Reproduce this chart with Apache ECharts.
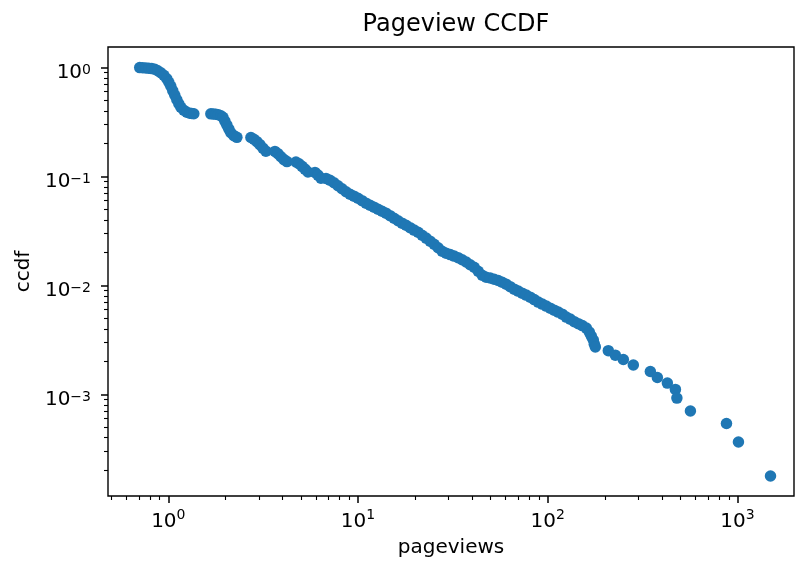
<!DOCTYPE html>
<html>
<head>
<meta charset="utf-8">
<script src="https://cdn.jsdelivr.net/npm/echarts@6/dist/echarts.min.js"></script>
<style>
  html, body { margin: 0; padding: 0; background: #ffffff; }
  #chart { width: 796px; height: 572px; }
</style>
</head>
<body>
<div id="chart"></div>
<script>
// Complementary CDF of page views per page (log-log)
const pageviews = [
  0.707, 0.733, 0.761, 0.789, 0.818, 0.849, 0.880, 0.913, 0.947, 0.982,
  1.006, 1.031, 1.056, 1.082, 1.109, 1.136, 1.164, 1.207, 1.252, 1.299, 1.33, 1.363,
  1.676, 1.728, 1.781, 1.836, 1.892, 1.940, 1.987, 2.036, 2.086, 2.137, 2.216, 2.299,
  2.725, 2.827, 2.931, 3.040, 3.153, 3.269,
  3.648, 3.782, 3.924, 4.070, 4.220,
  4.708, 4.884, 5.065, 5.253, 5.447,
  5.932, 6.151, 6.378,
  6.779, 7.116, 7.471, 7.843, 8.234, 8.644, 9.075, 9.526, 10.0, 10.50,
  11.02, 11.57, 12.15, 12.75, 13.39, 14.05, 14.75, 15.49, 16.26, 17.07,
  17.92, 18.81, 19.75, 20.73, 21.76, 22.85, 23.99, 25.18, 26.43, 27.75,
  29.14, 30.59, 32.11, 33.71, 35.39, 37.15, 39.0, 40.94, 42.98, 45.12,
  47.37, 49.72, 52.20, 54.80, 57.53, 60.39, 63.40, 66.56, 69.87, 73.35,
  77.0, 80.85, 84.88, 89.11, 93.54, 98.20, 103.1, 108.2, 113.6, 119.3,
  125.2, 131.4, 138.0, 144.9, 152.1, 159.7, 165.6, 169.7, 173.9, 176.0, 178.2,
  208.6, 227.1, 250.3, 282.6, 347.4, 378.3, 427.0, 470.8, 479.5, 564.9,
  875.0, 1012, 1493
];
const ccdf = [
  1.0, 0.996, 0.990, 0.985, 0.979, 0.965, 0.935, 0.896, 0.850, 0.789,
  0.733, 0.674, 0.612, 0.557, 0.506, 0.466, 0.432, 0.406, 0.389, 0.381, 0.379, 0.377,
  0.376, 0.375, 0.373, 0.369, 0.361, 0.350, 0.322, 0.296, 0.272, 0.252, 0.237, 0.229,
  0.228, 0.220, 0.209, 0.196, 0.182, 0.171,
  0.170, 0.162, 0.152, 0.143, 0.137,
  0.136, 0.131, 0.124, 0.117, 0.110,
  0.109, 0.103, 0.0965,
  0.0961, 0.0925, 0.0877, 0.0823, 0.0773, 0.0725, 0.0688, 0.0660, 0.0632, 0.0600,
  0.0569, 0.0545, 0.0523, 0.0501, 0.0480, 0.0461, 0.0437, 0.0414, 0.0393, 0.0373,
  0.0357, 0.0339, 0.0322, 0.0308, 0.0289, 0.0272, 0.0255, 0.0239, 0.0222, 0.0206,
  0.0198, 0.0192, 0.0186, 0.0180, 0.0172, 0.0164, 0.0155, 0.0147, 0.0135, 0.0124,
  0.0119, 0.0117, 0.0114, 0.0111, 0.0107, 0.01028, 0.00975, 0.00925, 0.00887, 0.00850,
  0.00815, 0.00781, 0.00741, 0.00703, 0.00674, 0.00646, 0.00619, 0.00593, 0.00569, 0.00545,
  0.00512, 0.00491, 0.00465, 0.00446, 0.00428, 0.00406, 0.00373, 0.00343, 0.00315, 0.00289, 0.00272,
  0.00252, 0.00229, 0.00209, 0.00186, 0.00162, 0.00143, 0.00127, 0.00111, 0.000925, 0.000703,
  0.00054, 0.000365, 0.000178
];

// Tick positions (decades and their in-between minor ticks)
const xMajorTicks = [1, 10, 100, 1000];
const xMinorTicks = [
  0.5, 0.6, 0.7, 0.8, 0.9,
  2, 3, 4, 5, 6, 7, 8, 9,
  20, 30, 40, 50, 60, 70, 80, 90,
  200, 300, 400, 500, 600, 700, 800, 900
];
const yMajorTicks = [0.001, 0.01, 0.1, 1];
const yMinorTicks = [
  0.0002, 0.0003, 0.0004, 0.0005, 0.0006, 0.0007, 0.0008, 0.0009,
  0.002, 0.003, 0.004, 0.005, 0.006, 0.007, 0.008, 0.009,
  0.02, 0.03, 0.04, 0.05, 0.06, 0.07, 0.08, 0.09,
  0.2, 0.3, 0.4, 0.5, 0.6, 0.7, 0.8, 0.9
];
const xRange = [0.481, 1986];
const yRange = [1.167e-4, 1.545];

const FONT = 'DejaVu Sans';
const INK = '#000000';

function powerLabel(v) {
  const e = Math.round(Math.log10(v));
  const exp = e < 0 ? '\u2212' + (-e) : String(e);
  return '{b|10}{s|' + exp + '}';
}

const richX = {
  b: { fontFamily: FONT, fontSize: 20, color: INK, lineHeight: 28 },
  s: { fontFamily: FONT, fontSize: 14, color: INK, lineHeight: 14, verticalAlign: 'top' }
};
// y labels sit slightly below their tick, as with a baseline-centred label
const richY = {
  b: { fontFamily: FONT, fontSize: 20, color: INK, lineHeight: 28, padding: [10, 0, 0, 0] },
  s: { fontFamily: FONT, fontSize: 14, color: INK, lineHeight: 14, verticalAlign: 'top', padding: [10, 0, 0, 0] }
};

function majorAxis(range, ticks, name, rich, margin, extra) {
  return Object.assign({
    type: 'log',
    logBase: 10,
    min: range[0],
    max: range[1],
    name: name,
    nameLocation: 'middle',
    nameTextStyle: { fontFamily: FONT, fontSize: 20, color: INK },
    axisLine: { show: false },
    splitLine: { show: false },
    minorTick: { show: false },
    axisTick: {
      show: true, inside: false, length: 7,
      customValues: ticks,
      lineStyle: { color: INK, width: 1.5 }
    },
    axisLabel: {
      show: true, margin: margin,
      customValues: ticks,
      formatter: powerLabel,
      rich: rich
    }
  }, extra);
}

function minorAxis(range, ticks, extra) {
  return Object.assign({
    type: 'log',
    logBase: 10,
    min: range[0],
    max: range[1],
    axisLine: { show: false },
    splitLine: { show: false },
    axisLabel: { show: false },
    axisTick: {
      show: true, inside: false, length: 4,
      customValues: ticks,
      lineStyle: { color: INK, width: 1.1 }
    }
  }, extra);
}

const points = pageviews.map((v, i) => [v, ccdf[i]]);

const chart = echarts.init(document.getElementById('chart'), null, { renderer: 'canvas' });
chart.setOption({
  animation: false,
  backgroundColor: '#ffffff',
  title: {
    text: 'Pageview CCDF',
    left: 451,
    top: 8,
    textAlign: 'center',
    textStyle: { fontFamily: FONT, fontSize: 24, fontWeight: 'normal', color: INK }
  },
  grid: {
    left: 108, top: 47, right: 2, bottom: 76,
    show: true,
    borderColor: INK,
    borderWidth: 1.4,
    backgroundColor: 'transparent',
    containLabel: false,
    outerBoundsMode: 'none'
  },
  xAxis: [
    majorAxis(xRange, xMajorTicks, 'pageviews', richX, 12, { position: 'bottom', nameGap: 42 }),
    minorAxis(xRange, xMinorTicks, { position: 'bottom' })
  ],
  yAxis: [
    majorAxis(yRange, yMajorTicks, 'ccdf', richY, 17, { position: 'left', nameGap: 74 }),
    minorAxis(yRange, yMinorTicks, { position: 'left' })
  ],
  series: [{
    type: 'scatter',
    xAxisIndex: 0,
    yAxisIndex: 0,
    data: points,
    symbol: 'circle',
    symbolSize: 11.5,
    itemStyle: { color: '#1f77b4', opacity: 1 },
    silent: true
  }]
});
</script>
</body>
</html>
